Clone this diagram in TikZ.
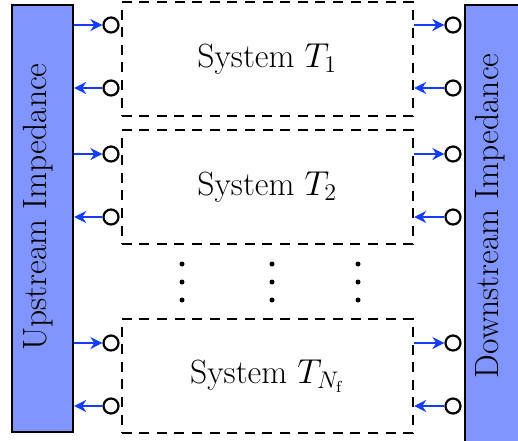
\documentclass[tikz,border=0pt]{standalone}
\usetikzlibrary{arrows.meta}
\definecolor{impfill}{RGB}{128,149,255}
\definecolor{arrblue}{RGB}{20,60,255}
\begin{document}
\begin{tikzpicture}[x=0.5pt,y=-0.5pt,
  imp/.style={draw=black, line width=1.1pt, fill=impfill, inner sep=0pt, anchor=north west},
  sysbox/.style={draw=black, line width=1.1pt, dash pattern=on 5pt off 3.8pt, inner sep=0pt,
    minimum width=145.75pt, minimum height=56.75pt, anchor=north west},
  port/.style={circle, draw=black, line width=1.1pt, fill=white, minimum size=7.5pt, inner sep=0pt},
  sig/.style={draw=arrblue, line width=1.1pt, -{Stealth[length=6pt,width=6pt]}},
  lbl/.style={font=\fontsize{16.8}{20}\selectfont}]
\useasboundingbox (0,0) rectangle (518,440);
\clip (0,0) rectangle (518,440);
% impedance blocks
\node[imp, minimum width=30.5pt, minimum height=213.5pt] (up) at (11,4) {};
\node[imp, minimum width=30.5pt, minimum height=222pt] (down) at (464,4) {};
\node[lbl, rotate=90] (uptext) at (38.5,207) {Upstream Impedance};
\node[lbl, rotate=90] (downtext) at (490.5,216) {Downstream Impedance};
% systems
\node[sysbox] (s1) at (120.5,1) {};
\node[sysbox] (s2) at (120.5,129) {};
\node[sysbox] (s3) at (120.5,318) {};
\node[lbl] (t1) at (s1.center) {System $T_1$};
\node[lbl] (t2) at (s2.center) {System $T_2$};
\node[lbl] (t3) at (s3.center) {System $T_{N_\mathrm{f}}$};
% ports
\foreach \i/\ya/\yb in {1/25/88, 2/154/217, 3/343/406} {
  \node[port] (la\i) at (111,\ya) {};
  \node[port] (lb\i) at (111,\yb) {};
  \node[port] (ra\i) at (453,\ya) {};
  \node[port] (rb\i) at (453,\yb) {};
  \draw[sig] (up.east |- la\i) -- (la\i.west);
  \draw[sig] (lb\i.west) -- (up.east |- lb\i);
  \draw[sig] (s\i.east |- ra\i) -- (ra\i.west);
  \draw[sig] (rb\i.west) -- (s\i.east |- rb\i);
}
% vertical dots
\foreach \x in {182,272,358} {
  \foreach \y in {264,282,300} {
    \fill (\x,\y) circle (1.25pt);
  }
}
\end{tikzpicture}
\end{document}
